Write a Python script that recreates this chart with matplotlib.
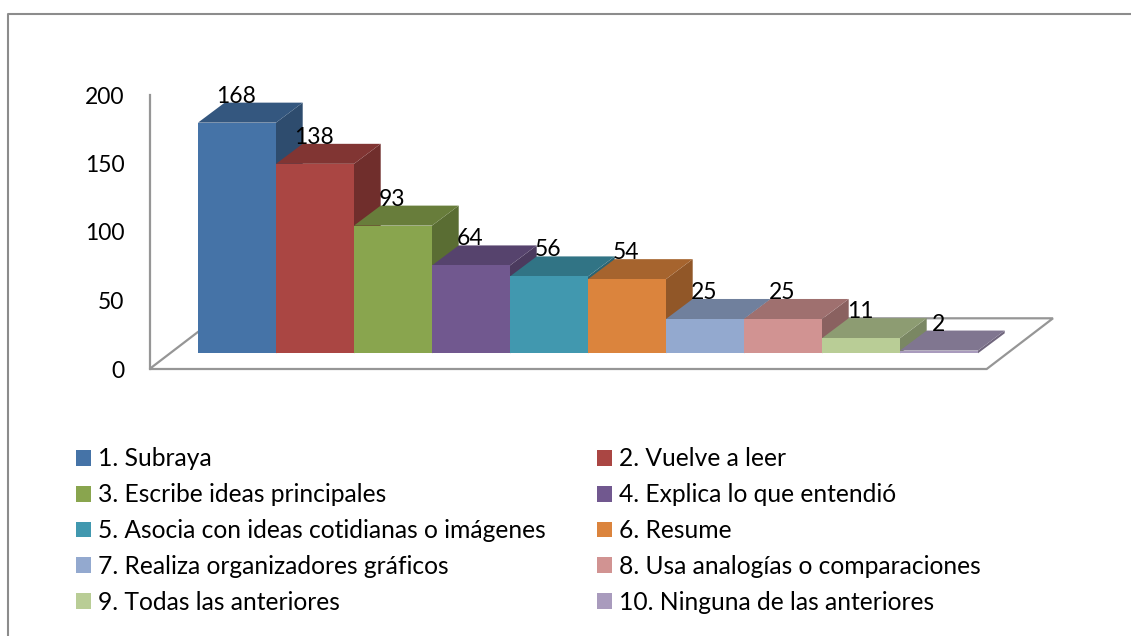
import matplotlib
matplotlib.use('Agg')
import matplotlib.pyplot as plt
from matplotlib.lines import Line2D
from matplotlib.patches import Patch, Polygon
from matplotlib.colors import to_rgb

plt.rcParams['font.family'] = ['Lato', 'DejaVu Sans']

# data
labels = ['1. Subraya', '2. Vuelve a leer', '3. Escribe ideas principales',
          '4. Explica lo que entendió', '5. Asocia con ideas cotidianas o imágenes',
          '6. Resume', '7. Realiza organizadores gráficos',
          '8. Usa analogías o comparaciones', '9. Todas las anteriores',
          '10. Ninguna de las anteriores']
values = [168, 138, 93, 64, 56, 54, 25, 25, 11, 2]
colors = ['#4573a7', '#aa4643', '#89a54e', '#71588f', '#4198af',
          '#db843d', '#93a9cf', '#d19392', '#b9cd96', '#a99bbd']
y_ticks = [0, 50, 100, 150, 200]

W, H = 1131, 636
BAR_LEFT, BAR_W, BASE_Y, PX_PER_UNIT = 198, 78, 353.3, 1.373

# depth of the fake 3D, in data units
DX = 26.7 / BAR_W
DY = 20 / PX_PER_UNIT


def shade(c, f):
    return tuple(v * f for v in to_rgb(c))


fig = plt.figure(figsize=(W / 100, H / 100), dpi=100)
ax = fig.add_axes([0, 0, 1, 1])
ax.set_xlim(-BAR_LEFT / BAR_W, (W - BAR_LEFT) / BAR_W)
ax.set_ylim((BASE_Y - H) / PX_PER_UNIT, BASE_Y / PX_PER_UNIT)
ax.axis('off')

# floor
fx0 = (149.5 - BAR_LEFT) / BAR_W
fx1 = (986.7 - BAR_LEFT) / BAR_W
fy0 = (BASE_Y - 369) / PX_PER_UNIT
fdx = 66.3 / BAR_W
fdy = 50.7 / PX_PER_UNIT
ax.add_patch(Polygon([(fx0, fy0), (fx1, fy0), (fx1 + fdx, fy0 + fdy), (fx0 + fdx, fy0 + fdy)],
                     closed=True, fc='white', ec='#969696', lw=1.6, zorder=1))

# bars, left to right so that each one covers the side of the one before
for i, (v, c) in enumerate(zip(values, colors)):
    z = 2 + i
    ax.add_patch(Polygon([(i + 1, 0), (i + 1 + DX, DY), (i + 1 + DX, v + DY), (i + 1, v)],
                         closed=True, fc=shade(c, 0.66), ec='none', zorder=z))
    ax.add_patch(Polygon([(i, v), (i + 1, v), (i + 1 + DX, v + DY), (i + DX, v + DY)],
                         closed=True, fc=shade(c, 0.76), ec='none', zorder=z))
    ax.bar(i + 0.5, v, width=1, color=c, linewidth=0, zorder=z)

for i, v in enumerate(values):
    ax.text(i + 0.49, v + DY, str(v), ha='center', va='baseline', fontsize=16.5,
            color='black', zorder=20)

# the y axis, as its own thin axes on the back wall
wall = fig.add_axes([149.5 / W, (H - 369) / H, 0.02, 274 / H], facecolor='none')
wall.set_ylim(0, 200)
wall.set_xticks([])
wall.set_yticks(y_ticks)
wall.tick_params(axis='y', length=0, pad=18, labelsize=16.5)
for s in ['top', 'right', 'bottom']:
    wall.spines[s].set_visible(False)
wall.spines['left'].set_color('#969696')
wall.spines['left'].set_linewidth(1.6)

# legend is filled column by column
order = [0, 2, 4, 6, 8, 1, 3, 5, 7, 9]
handles = [Patch(fc=colors[i], ec='none', label=labels[i]) for i in order]
ax.legend(handles=handles, ncol=2, loc='upper left', frameon=False,
          bbox_to_anchor=(76 / W, 1 - 447.5 / H), borderaxespad=0, borderpad=0,
          fontsize=17.75, labelspacing=0.52, handlelength=0.61, handleheight=0.61,
          handletextpad=0.29, columnspacing=2.08, labelcolor='black')

# chart border, open at the right and the bottom
fig.add_artist(Line2D([7.5 / W, 7.5 / W, 1], [0, 1 - 13.5 / H, 1 - 13.5 / H],
                      color='#8c8c8c', lw=1.5))

fig.savefig('out.png', dpi=100)
